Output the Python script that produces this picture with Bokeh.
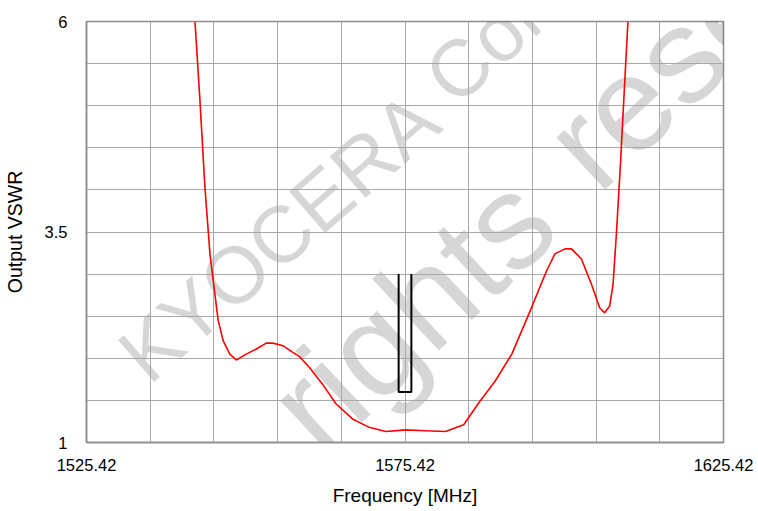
from bokeh.plotting import figure
from bokeh.models import FixedTicker, NumeralTickFormatter, Label, Range1d
from bokeh.embed import file_html
from bokeh.resources import INLINE

# ---- data ----
freq_mhz = [1542.45, 1543.23, 1544.01, 1544.80, 1545.58, 1546.09, 1546.87, 1547.92,
            1548.95, 1550.51, 1552.08, 1553.64, 1554.69, 1556.25, 1557.81, 1558.86,
            1560.42, 1562.50, 1564.58, 1567.18, 1569.80, 1572.39, 1575.52, 1578.64,
            1581.77, 1584.64, 1586.98, 1589.58, 1592.19, 1595.05, 1597.65, 1598.95,
            1600.52, 1601.56, 1603.12, 1604.69, 1605.98, 1606.76, 1607.55, 1608.08,
            1608.60, 1609.22, 1609.76, 1610.42]
output_vswr = [6.00, 5.06, 4.03, 3.24, 2.76, 2.45, 2.21, 2.05,
               1.98, 2.05, 2.11, 2.18, 2.18, 2.15, 2.07, 2.02,
               1.89, 1.69, 1.46, 1.28, 1.18, 1.13, 1.15, 1.14,
               1.13, 1.21, 1.47, 1.73, 2.05, 2.56, 3.04, 3.24,
               3.30, 3.30, 3.18, 2.88, 2.60, 2.54, 2.62, 2.88,
               3.47, 4.27, 5.06, 6.00]

band_freq = [1574.42, 1574.42, 1576.42, 1576.42]
band_vswr = [3.0, 1.6, 1.6, 3.0]

x_ticks = [1525.42, 1575.42, 1625.42]
y_ticks = [1, 3.5, 6]
x_grid = [1525.42, 1535.42, 1545.42, 1555.42, 1565.42, 1575.42, 1585.42,
          1595.42, 1605.42, 1615.42, 1625.42]
y_grid = [1.0, 1.5, 2.0, 2.5, 3.0, 3.5, 4.0, 4.5, 5.0, 5.5, 6.0]

watermark_text = ["KYOCERA", "Confidential", "All", "rights", "reserved"]
watermark_x = [1555.62, 1605.19, 1543.90, 1576.42, 1630.92]
watermark_y = [3.443, 6.888, -0.06, 2.54, 6.46]
watermark_size = ["80px", "80px", "135px", "135px", "135px"]
watermark_angle = [41, 42, 43, 43, 43]

FONT = "Liberation Sans"

p = figure(width=758, height=511,
           x_range=Range1d(1525.42, 1625.42), y_range=Range1d(1, 6),
           output_backend="svg", toolbar_location=None,
           min_border_left=83, min_border_right=35,
           min_border_top=21, min_border_bottom=69)

p.background_fill_color = "white"
p.border_fill_color = "white"
p.outline_line_color = "#8c8c8c"
p.outline_line_width = 1.5

# grids
p.xgrid.ticker = FixedTicker(ticks=x_grid)
p.ygrid.ticker = FixedTicker(ticks=y_grid)
for g in (p.xgrid, p.ygrid):
    g.grid_line_color = "#a8a8a8"
    g.grid_line_width = 1

# axes
p.xaxis.ticker = FixedTicker(ticks=x_ticks)
p.yaxis.ticker = FixedTicker(ticks=y_ticks)
p.xaxis.formatter = NumeralTickFormatter(format="0.00")
p.yaxis.formatter = NumeralTickFormatter(format="0.[0]")
p.xaxis.axis_label = "Frequency [MHz]"
p.yaxis.axis_label = "Output VSWR"
for ax in (p.xaxis, p.yaxis):
    ax.axis_line_color = "#8c8c8c"
    ax.axis_line_width = 1.5
    ax.major_tick_out = 0
    ax.major_tick_in = 0
    ax.minor_tick_out = 0
    ax.minor_tick_in = 0
    ax.major_label_text_font = FONT
    ax.major_label_text_font_size = "16.5px"
    ax.major_label_text_color = "black"
    ax.axis_label_text_font = FONT
    ax.axis_label_text_font_style = "normal"
    ax.axis_label_text_color = "black"
p.xaxis.axis_label_text_font_size = "19px"
p.yaxis.axis_label_text_font_size = "19.5px"
p.xaxis.major_label_standoff = 16
p.xaxis.axis_label_standoff = 11
p.yaxis.major_label_standoff = 19
p.yaxis.axis_label_standoff = 16

# watermark (drawn underneath grid and data)
for t, x, y, s, a in zip(watermark_text, watermark_x, watermark_y,
                         watermark_size, watermark_angle):
    p.add_layout(Label(x=x, y=y, text=t, angle=a, angle_units="deg",
                       text_font=FONT, text_font_size=s, text_color="black",
                       text_alpha=0.16, text_align="center",
                       text_baseline="middle", level="image"))

# data
p.line(freq_mhz, output_vswr, line_color="#ff0000", line_width=1.6)
p.line(band_freq, band_vswr, line_color="black", line_width=2)

open("out.html", "w").write(file_html(p, INLINE))
